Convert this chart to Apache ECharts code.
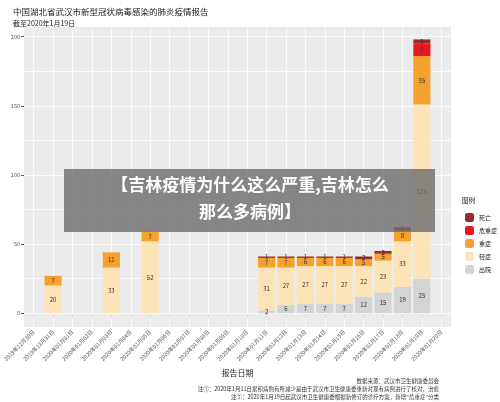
<!DOCTYPE html>
<html><head><meta charset="utf-8">
<script src="https://cdn.jsdelivr.net/npm/echarts@6/dist/echarts.min.js"></script>
<style>html,body{margin:0;padding:0;background:#fff}#c{width:500px;height:402px}</style>
</head><body><div id="c"></div>
<script>
const dates = ['2019年12月30日','2019年12月31日','2020年01月01日','2020年01月02日','2020年01月03日','2020年01月04日','2020年01月05日','2020年01月06日','2020年01月07日','2020年01月08日','2020年01月09日','2020年01月10日','2020年01月11日','2020年01月12日','2020年01月13日','2020年01月14日','2020年01月15日','2020年01月16日','2020年01月17日','2020年01月18日','2020年01月19日','2020年01月20日'];
const discharged = [null,null,null,null,null,null,null,null,null,null,null,null,2,6,7,7,7,12,15,19,25,null];
const mild = [null,20,null,null,33,null,52,null,null,null,null,null,31,27,27,27,27,22,23,33,126,null];
const severe = [null,7,null,null,11,null,7,null,null,null,null,null,7,7,6,6,6,5,5,8,35,null];
const critical = [null,null,null,null,null,null,null,null,null,null,null,null,null,null,null,null,null,null,null,null,9,null];
const deaths = [null,null,null,null,null,null,null,null,null,null,null,null,1,1,1,1,1,2,2,2,3,null];
const yTicks = [0, 50, 100, 150, 200];
const gridY = [0, 25, 50, 75, 100, 125, 150, 175, 200];

const chart = echarts.init(document.getElementById('c'));
const font = 'Noto Sans CJK SC';
const mk = (name, data, color) => ({
  name, type: 'bar', stack: 'a', data, barCategoryGap: '12%', z: 3,
  itemStyle: { color },
  label: { show: true, position: 'inside', fontSize: 6, color: '#333', fontFamily: font }
});
const series = [
  mk('出院', discharged, '#d4d4d4'),
  mk('轻症', mild, '#fde3b8'),
  mk('重症', severe, '#f6a12c'),
  mk('危重症', critical, '#e8191e'),
  mk('死亡', deaths, '#962a2c')
];
series[0].markLine = {
  silent: true, symbol: 'none', label: { show: false }, z: 1,
  lineStyle: { color: '#fff', width: 0.8, type: 'solid' },
  data: gridY.map(v => ({ yAxis: v })).concat(dates.map(d => ({ xAxis: d })))
};
chart.setOption({
  animation: false,
  textStyle: { fontFamily: font },
  title: [
    { text: '中国湖北省武汉市新型冠状病毒感染的肺炎疫情报告', left: 8, top: 3, textStyle: { fontSize: 8.5, fontWeight: 'normal', color: '#222' } },
    { text: '截至2020年1月19日', left: 8, top: 15, textStyle: { fontSize: 7, fontWeight: 'normal', color: '#222' } }
  ],
  grid: { left: 24, right: 49, top: 27, bottom: 75, show: true, backgroundColor: '#ebebeb', borderWidth: 0, outerBoundsMode: 'none', containLabel: false },
  legend: {
    orient: 'vertical', left: 460, top: 208, itemWidth: 9, itemHeight: 9, itemGap: 4,
    data: ['死亡', '危重症', '重症', '轻症', '出院'],
    textStyle: { fontSize: 6, color: '#222' }
  },
  xAxis: {
    type: 'category', data: dates,
    name: '报告日期', nameLocation: 'middle', nameGap: 28,
    nameTextStyle: { fontSize: 8, color: '#222' },
    axisLine: { show: false }, axisTick: { show: true, alignWithLabel: true, lineStyle: { color: '#555' } },
    axisLabel: { rotate: 45, fontSize: 5.5, color: '#555', interval: 0, margin: 4 }
  },
  yAxis: {
    type: 'value', min: -10, max: 207,
    name: '病例数量', nameLocation: 'middle', nameGap: 15, nameRotate: 90,
    nameTextStyle: { fontSize: 7, color: '#222' },
    splitLine: { show: false }, axisLine: { show: false },
    axisTick: { show: true, customValues: yTicks, length: 3, lineStyle: { color: '#555' } },
    axisLabel: { customValues: yTicks, fontSize: 5.5, color: '#555', margin: 4 }
  },
  series,
  graphic: [
    { type: 'rect', shape: { x: 64, y: 169, width: 371, height: 63 }, style: { fill: 'rgba(110,110,110,0.82)' }, z: 100 },
    { type: 'text', x: 250, y: 185, z: 101, style: { text: '【吉林疫情为什么这么严重,吉林怎么', fill: '#fff', fontSize: 17, fontWeight: 'bold', fontFamily: font, align: 'center', verticalAlign: 'middle' } },
    { type: 'text', x: 250, y: 212, z: 101, style: { text: '那么多病例】', fill: '#fff', fontSize: 17, fontWeight: 'bold', fontFamily: font, align: 'center', verticalAlign: 'middle' } },
    { type: 'text', x: 462, y: 197, style: { text: '图例', fill: '#222', fontSize: 6.5, fontFamily: font } },
    { type: 'text', x: 439, y: 378, style: { text: '数据来源：武汉市卫生健康委员会', fill: '#333', fontSize: 5.5, fontFamily: font, align: 'right' } },
    { type: 'text', x: 439, y: 386, style: { text: '注①：2020年1月11日累积病例有所减少是由于武汉市卫生健康委重新对现有病例进行了核对，治愈', fill: '#333', fontSize: 5.5, fontFamily: font, align: 'right' } },
    { type: 'text', x: 439, y: 394, style: { text: '注②：2020年1月19日起武汉市卫生健康委根据新修订的诊疗方案，新增"危重症"分类', fill: '#333', fontSize: 5.5, fontFamily: font, align: 'right' } }
  ]
});
</script></body></html>
